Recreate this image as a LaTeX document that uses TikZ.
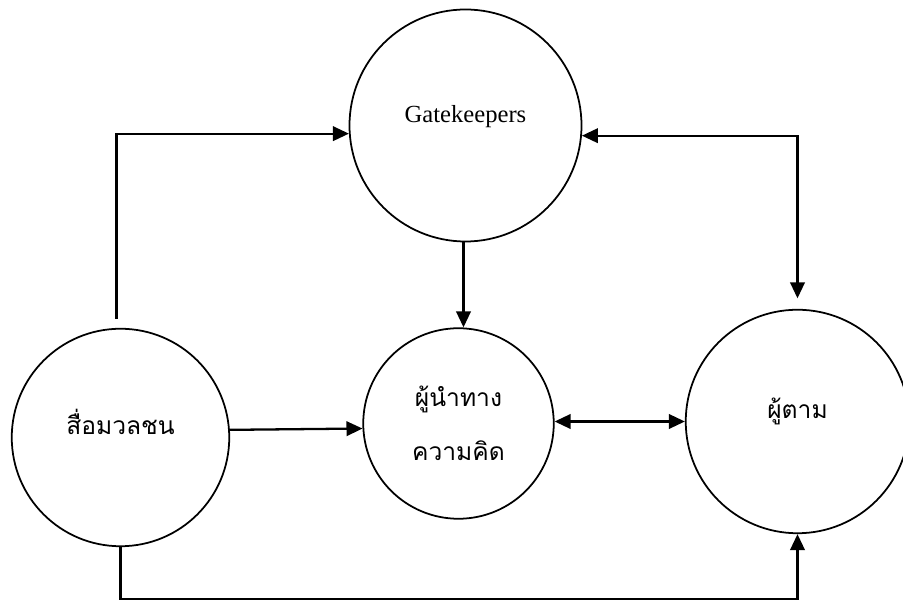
\documentclass[tikz,border=0pt]{standalone}
\usepackage{fontspec}
\setmainfont{Liberation Serif}
\newfontfamily\thaifont[Script=Thai]{Loma}
\usetikzlibrary{positioning, arrows.meta, calc}
\definecolor{figink}{HTML}{000000}

\begin{document}
\begin{tikzpicture}[
  x=1cm, y=1cm,
  line width=1.3pt, line join=miter,
  >={Triangle[length=0.32cm, width=0.29cm]},
  circ/.style = {draw=figink, line width=1pt, circle, inner sep=0pt,
                 anchor=center, font=\fontsize{14pt}{17pt}\selectfont},
  one/.style  = {text height=0.3cm, text depth=0.4cm},
  thai/.style = {font=\fontsize{14pt}{31pt}\thaifont}
]
\useasboundingbox (0,0) rectangle (18.06,-12.02);

% วงกลม
\node[circ, one, minimum size=4.64cm] (gk) at (9.31,-2.51) {Gatekeepers};
\node[circ, one, thai, minimum size=4.35cm] (media) at (2.41,-8.75) {สื่อมวลชน};
\node[circ, thai, align=center, minimum size=3.81cm] (leader) at (9.17,-8.47)
  {ผู้นำทาง\\ความคิด};
\node[circ, one, thai, minimum size=4.47cm] (follow) at (15.95,-8.43) {ผู้ตาม};

% สื่อมวลชน -> Gatekeepers
\draw[->] ([xshift=-0.08cm, yshift=0.18cm]media.north) |- (gk.184.2);
% สื่อมวลชน -> ผู้นำทางความคิด
\draw[->] (media.4.9) -- (leader.183);
% Gatekeepers -> ผู้นำทางความคิด
\draw[->] ([xshift=-0.04cm]gk.south) -- ([xshift=-0.04cm]gk.south |- leader.north);
% ผู้นำทางความคิด <-> ผู้ตาม
\draw[<->] (leader.east |- follow.west) -- (follow.west);
% Gatekeepers <-> ผู้ตาม
\draw[<->, shorten >=0.21cm] (gk.-5.9) -| (follow.north);
% สื่อมวลชน -> ผู้ตาม (ด้านล่าง)
\draw[->] (media.south) -- ++(0,-1.04) -| (follow.south);

\end{tikzpicture}
\end{document}
